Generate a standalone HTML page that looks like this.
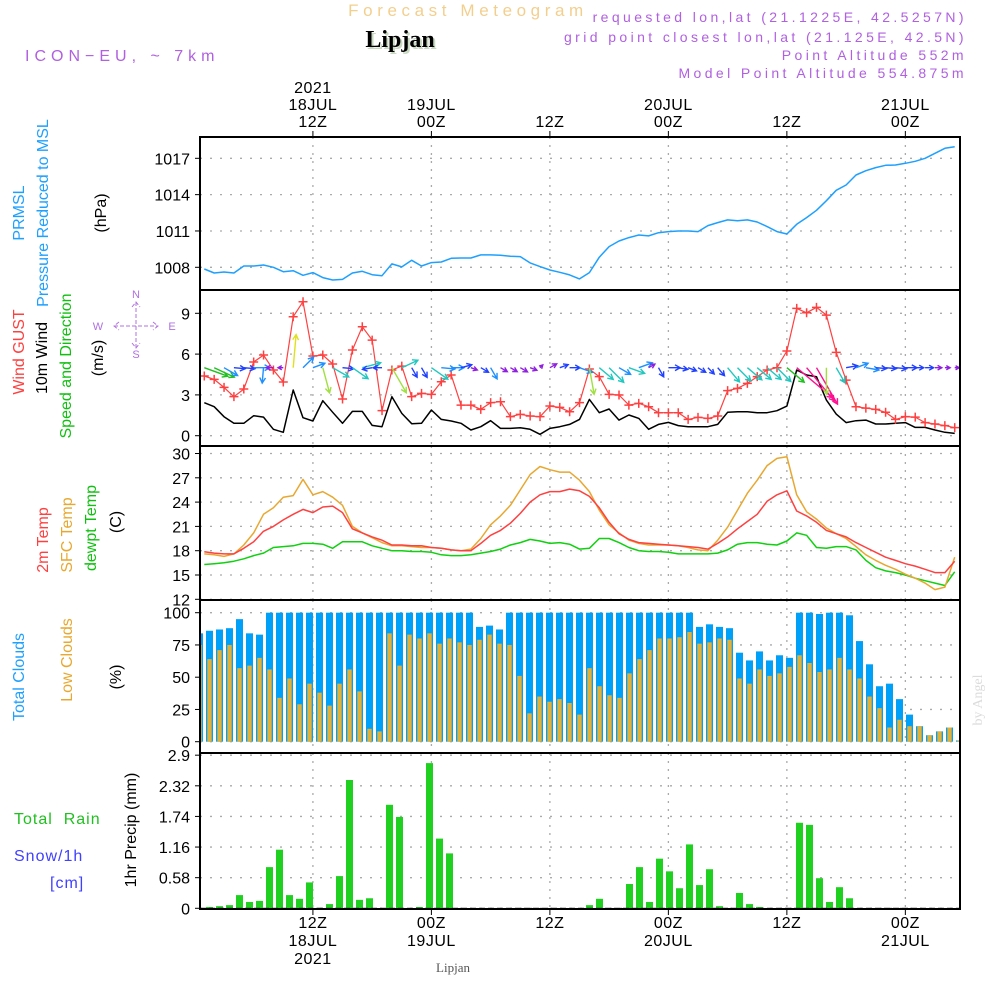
<!DOCTYPE html>
<html><head><meta charset="utf-8"><style>
html,body{margin:0;padding:0;background:#fff;}
svg{display:block;font-family:"Liberation Sans",sans-serif;}
</style></head>
<body>
<svg id="chart" width="1000" height="1000" viewBox="0 0 1000 1000" xmlns="http://www.w3.org/2000/svg">
<rect x="0" y="0" width="1000" height="1000" fill="#fff"/>
<text x="468" y="16" text-anchor="middle" font-size="17" fill="#f3cf8e" letter-spacing="4.6">Forecast Meteogram</text>
<text x="402" y="49" text-anchor="middle" font-size="24" font-weight="bold" font-family="Liberation Serif, serif" fill="#c8d8c0">Lipjan</text>
<text x="400" y="47" text-anchor="middle" font-size="24" font-weight="bold" font-family="Liberation Serif, serif" fill="#000">Lipjan</text>
<text x="25" y="61" font-size="16" fill="#b060e0" letter-spacing="5">ICON−EU, ~ 7km</text>
<g font-size="14" fill="#b060e0" text-anchor="end" letter-spacing="3.4">
<text x="967" y="22">requested lon,lat (21.1225E, 42.5257N)</text>
<text x="967" y="42">grid point closest lon,lat (21.125E, 42.5N)</text>
<text x="967" y="60">Point Altitude 552m</text>
<text x="967" y="78">Model Point Altitude 554.875m</text>
</g>
<g id="grid"></g>
<g id="marks"></g>
<g id="frames"></g>
<g id="labels"></g>
<g font-size="16">
<text transform="translate(24,213) rotate(-90)" text-anchor="middle" fill="#1ea0ff">PRMSL</text>
<text transform="translate(48,213) rotate(-90)" text-anchor="middle" fill="#1ea0ff">Pressure Reduced to MSL</text>
<text transform="translate(106,213) rotate(-90)" text-anchor="middle" fill="#000">(hPa)</text>
<text transform="translate(24,352) rotate(-90)" text-anchor="middle" fill="#ff4040">Wind GUST</text>
<text transform="translate(47,358) rotate(-90)" text-anchor="middle" fill="#000">10m Wind</text>
<text transform="translate(71,366) rotate(-90)" text-anchor="middle" fill="#10c010">Speed and Direction</text>
<text transform="translate(103,358) rotate(-90)" text-anchor="middle" fill="#000">(m/s)</text>
<text transform="translate(48,540) rotate(-90)" text-anchor="middle" fill="#ff4040">2m Temp</text>
<text transform="translate(72,535) rotate(-90)" text-anchor="middle" fill="#e8a830">SFC Temp</text>
<text transform="translate(96,528) rotate(-90)" text-anchor="middle" fill="#10c010">dewpt Temp</text>
<text transform="translate(121,522) rotate(-90)" text-anchor="middle" fill="#000">(C)</text>
<text transform="translate(24,677) rotate(-90)" text-anchor="middle" fill="#1ea0ff">Total Clouds</text>
<text transform="translate(72,660) rotate(-90)" text-anchor="middle" fill="#e8a830">Low Clouds</text>
<text transform="translate(121,677) rotate(-90)" text-anchor="middle" fill="#000">(%)</text>
<text x="14" y="824" fill="#20c020" letter-spacing="1">Total&#160;&#160;Rain</text>
<text x="14" y="861" fill="#4040ff" letter-spacing="1">Snow/1h</text>
<text x="50" y="888" fill="#4040ff" letter-spacing="1">[cm]</text>
<text transform="translate(136,830) rotate(-90)" text-anchor="middle" fill="#000">1hr Precip (mm)</text>
<text x="453" y="972" text-anchor="middle" font-size="13" font-family="Liberation Serif, serif" fill="#555">Lipjan</text>
<text transform="translate(982,700) rotate(-90)" text-anchor="middle" font-size="14" font-family="Liberation Serif, serif" fill="#dcdcdc">by Angel</text>
</g>
<g fill="#b070e0" stroke="#b070e0" font-size="11">
<text x="136" y="298" text-anchor="middle" stroke="none">N</text>
<text x="136" y="358" text-anchor="middle" stroke="none">S</text>
<text x="98" y="330" text-anchor="middle" stroke="none">W</text>
<text x="172" y="330" text-anchor="middle" stroke="none">E</text>
<path d="M136 302 V348 M114 326 H158 M132 307 L136 302 L140 307 M132 343 L136 348 L140 343 M119 322 L114 326 L119 330 M153 322 L158 326 L153 330" fill="none" stroke-width="1" stroke-dasharray="4 2"/>
</g>
</svg>
<script>
const NS = "http://www.w3.org/2000/svg";
// ---- data ----
const pressure = [1007.86,1007.53,1007.61,1007.53,1008.11,1008.11,1008.19,1008.0,1007.64,1007.72,1007.34,1007.56,1007.15,1006.95,1007.0,1007.53,1007.67,1007.39,1007.31,1008.28,1008.03,1008.58,1008.11,1008.39,1008.44,1008.74,1008.77,1008.77,1009.02,1009.02,1008.99,1008.91,1008.88,1008.36,1008.06,1007.78,1007.59,1007.37,1007.04,1007.56,1008.83,1009.71,1010.17,1010.45,1010.67,1010.59,1010.86,1010.95,1011.0,1011.0,1010.95,1011.44,1011.69,1011.91,1011.85,1011.91,1011.74,1011.36,1010.95,1010.75,1011.55,1012.1,1012.71,1013.5,1014.36,1014.8,1015.62,1015.98,1016.23,1016.42,1016.45,1016.59,1016.75,1017.0,1017.41,1017.83,1017.96];
const gust = [4.39,4.14,3.55,2.87,3.43,5.42,5.93,4.83,3.95,8.75,9.85,5.86,5.93,5.27,2.70,6.30,8.01,7.03,1.84,4.83,5.12,2.87,3.11,3.04,3.97,4.46,2.25,2.25,1.94,2.43,2.50,1.40,1.57,1.45,1.40,2.18,2.08,1.76,2.43,4.9,4.34,3.04,2.99,2.25,2.38,2.13,1.69,1.69,1.69,1.20,1.35,1.27,1.45,3.31,3.48,3.85,4.34,4.83,5.0,6.23,9.36,9.04,9.44,8.87,6.13,4.09,2.13,2.03,1.94,1.72,1.20,1.40,1.37,0.96,0.86,0.74,0.59];
const wind10 = [2.43,2.13,1.40,0.91,0.91,1.47,1.37,0.47,0.25,3.36,1.32,1.08,2.57,1.72,0.91,1.79,1.79,0.76,0.66,2.87,1.64,0.88,0.91,1.89,1.20,1.08,0.91,0.42,0.66,1.10,0.54,0.54,0.59,0.47,0.10,0.54,0.66,0.83,1.20,2.67,1.69,1.96,1.15,1.52,1.27,0.47,0.83,0.98,0.74,0.66,0.66,0.66,0.83,1.72,1.76,1.76,1.69,1.69,1.84,2.18,4.83,4.46,4.34,2.62,1.59,0.96,1.10,1.15,0.86,0.86,0.91,0.96,0.61,0.61,0.42,0.25,0.17];
const windDir = [20,25,30,5,5,0,95,180,180,-85,-45,-20,75,30,5,35,-15,170,180,60,-25,60,60,35,5,0,-15,20,30,60,30,30,30,20,-45,-30,-20,0,20,80,40,45,30,20,-20,-30,60,0,10,20,30,45,50,50,45,40,40,40,45,40,40,50,60,90,60,-10,-20,10,5,5,5,0,0,0,0,0,0];
const temp2m = [17.86,17.7,17.6,17.6,18.3,19.1,20.4,21.0,21.8,22.5,23.1,22.7,23.4,23.5,22.7,20.7,20.2,19.7,19.3,18.7,18.7,18.6,18.6,18.4,18.3,18.1,18.0,18.0,18.9,19.9,20.5,21.4,22.6,24.0,24.9,25.3,25.3,25.6,25.4,24.7,23.3,21.5,20.1,19.4,19.0,18.9,18.8,18.7,18.6,18.5,18.4,18.2,18.9,19.7,20.7,21.6,22.5,24.1,24.9,25.4,22.9,22.3,21.5,20.5,20.1,19.7,19.0,18.4,17.8,17.2,16.8,16.4,16.1,15.7,15.3,15.3,16.7];
const tempSfc = [17.6,17.5,17.3,17.6,18.7,20.2,22.5,23.3,24.6,24.8,26.8,24.9,25.3,24.6,23.6,21.0,20.2,19.6,19.0,18.6,18.6,18.5,18.4,18.4,18.3,18.1,18.0,18.2,19.5,21.2,22.3,23.6,25.5,27.4,28.4,28.0,27.7,27.7,26.7,25.3,23.0,21.2,20.2,19.3,18.9,18.7,18.7,18.7,18.6,18.4,18.1,18.0,19.3,20.9,23.0,25.1,26.7,28.5,29.4,29.6,24.9,22.8,21.9,20.8,20.1,19.5,18.5,17.5,16.8,16.2,15.7,15.1,14.6,14.0,13.2,13.5,17.2];
const dewpt = [16.3,16.4,16.5,16.7,17.0,17.4,17.7,18.4,18.5,18.6,18.9,18.9,18.8,18.3,19.1,19.1,19.1,18.6,18.3,18.0,18.0,17.9,17.9,17.8,17.5,17.4,17.4,17.5,17.7,17.9,18.2,18.7,19.0,19.4,19.2,18.9,19.0,18.8,18.2,18.3,19.5,19.5,19.0,18.4,18.0,17.9,17.9,17.8,17.6,17.6,17.6,17.6,17.7,18.1,18.8,19.0,19.0,18.8,18.7,19.2,20.2,19.9,18.4,18.3,18.5,18.5,18.1,16.8,15.9,15.5,15.3,15.0,14.6,14.3,14.0,13.7,15.4];
const totalCloud = [84,86,87,88,95,84,83,100,100,100,100,100,100,100,100,100,100,100,100,100,100,100,100,100,100,100,100,100,89,90,87,100,100,100,100,100,100,100,100,100,100,100,100,100,100,100,100,100,100,100,89,91,89,88,69,63,70,63,67,65,100,100,99,100,100,98,78,60,43,45,33,21,12,5,8,11,1];
const lowCloud = [75,64,71,75,57,59,65,56,34,49,29,45,38,28,45,56,39,10,8,84,59,83,80,84,76,80,77,75,79,83,76,75,51,22,35,31,33,30,21,57,43,36,34,53,64,71,80,80,81,85,76,77,80,79,49,45,56,51,53,58,67,61,54,56,65,56,49,35,26,11,17,12,12,5,8,11,1];
const precip = [0,0.025,0.04,0.06,0.25,0.12,0.14,0.78,1.11,0.25,0.18,0.49,0.01,0.08,0.61,2.43,0.16,0.19,0,1.96,1.73,0,0.025,2.75,1.32,1.04,0,0,0,0,0,0,0,0,0,0,0,0,0,0.06,0.18,0,0,0.46,0.78,0.12,0.94,0.70,0.38,1.21,0.44,0.74,0.04,0,0.29,0.08,0.025,0,0,0,1.62,1.58,0.57,0.12,0.40,0.19,0,0,0,0,0,0,0,0,0,0,0];
const pTicks = [1008,1011,1014,1017];
const wTicks = [0,3,6,9];
const tTicks = [12,15,18,21,24,27,30];
const cTicks = [0,25,50,75,100];
const rTicks = [0,0.58,1.16,1.74,2.32,2.9];
const timeHours = [11,23,35,47,59,71];
const topLabels = [["2021","18JUL","12Z"],["19JUL","00Z"],["12Z"],["20JUL","00Z"],["12Z"],["21JUL","00Z"]];
const botLabels = [["12Z","18JUL","2021"],["00Z","19JUL"],["12Z"],["00Z","20JUL"],["12Z"],["00Z","21JUL"]];

// ---- scales ----
const X0 = 200, X1 = 960;
const xLine = k => 204.3 + k * 9.874;
const xBar = i => 199.5 + i * 10;
const yP = v => 267.3 - (v - 1008) * 12.11;
const yW = v => 435.7 - v * 13.6;
const yT = v => 599.3 - (v - 12) * 8.1;
const yC = v => 741.7 - v * 1.29;
const yR = v => 908.3 - v * 52.8;
const panels = [[137,290],[290,446],[446,600],[600,753],[753,909]];

function el(tag, attrs, parent) {
  const e = document.createElementNS(NS, tag);
  for (const k in attrs) e.setAttribute(k, attrs[k]);
  parent.appendChild(e);
  return e;
}
const grid = document.getElementById('grid');
const marks = document.getElementById('marks');
const frames = document.getElementById('frames');
const labels = document.getElementById('labels');

timeHours.forEach(h => {
  panels.forEach(p => {
    const l = el('line', {x1: xLine(h), x2: xLine(h), y1: p[0], y2: p[1], stroke: '#aaa', 'stroke-width': 1.3, 'stroke-dasharray': '2 6'}, grid);
    
    
  });
  const t1 = el('line', {x1: xLine(h), x2: xLine(h), y1: 131, y2: 137, stroke: '#000', 'stroke-width': 1}, frames);
  
  
  const t2 = el('line', {x1: xLine(h), x2: xLine(h), y1: 909, y2: 915, stroke: '#000', 'stroke-width': 1}, frames);
  
  
});
function yAxis(ticks, scale, fmt, name) {
  ticks.forEach(v => {
    const y = scale(v);
    const g = el('line', {x1: X0, x2: X1, y1: y, y2: y, stroke: '#aaa', 'stroke-width': 1.3, 'stroke-dasharray': '2 8'}, grid);
    
    
    const tk = el('line', {x1: X0 - 5, x2: X0, y1: y, y2: y, stroke: '#000', 'stroke-width': 1}, frames);
    
    
    const t = el('text', {x: 190, y: y + 6, 'text-anchor': 'end', 'font-size': 16, fill: '#000'}, labels);
    t.textContent = fmt(v);
    
    
  });
}
yAxis(pTicks, yP, v => String(v), 'pressure-y');
yAxis(wTicks, yW, v => String(v), 'wind-y');
yAxis(tTicks, yT, v => String(v), 'temp-y');
yAxis(cTicks, yC, v => String(v), 'cloud-y');
yAxis(rTicks, yR, v => String(v), 'precip-y');

timeHours.forEach((h, j) => {
  const top = topLabels[j];
  top.forEach((s, n) => {
    const t = el('text', {x: xLine(h), y: 127 - (top.length - 1 - n) * 17, 'text-anchor': 'middle', 'font-size': 16, fill: '#000', 'letter-spacing': 0.5}, labels);
    t.textContent = s;
    
    
  });
  botLabels[j].forEach((s, n) => {
    const t = el('text', {x: xLine(h), y: 928 + n * 18, 'text-anchor': 'middle', 'font-size': 16, fill: '#000', 'letter-spacing': 0.5}, labels);
    t.textContent = s;
    
    
  });
});

const defs = el('defs', {}, marks);
const cp = el('clipPath', {id: 'plotclip'}, defs);
el('rect', {x: X0, y: 137, width: X1 - X0, height: 772}, cp);
const plot = el('g', {'clip-path': 'url(#plotclip)'}, marks);



function poly(arr, xs, ys, color, name, w) {
  const pts = arr.map((v, k) => xs(k).toFixed(1) + ',' + ys(v).toFixed(1)).join(' ');
  const p = el('polyline', {points: pts, fill: 'none', stroke: color, 'stroke-width': w || 1.5, 'stroke-linejoin': 'round'}, plot);
  
  
}
poly(pressure, xLine, yP, '#1ea0ff', 'pressure-line');
totalCloud.forEach((v, i) => {
  const r = el('rect', {x: xBar(i) - 3.5, y: yC(v), width: 7, height: yC(0) - yC(v), fill: '#00a0f8'}, plot);
  
  
});
lowCloud.forEach((v, i) => {
  const r = el('rect', {x: xBar(i) - 2.2, y: yC(v), width: 4.4, height: yC(0) - yC(v), fill: '#e8b030'}, plot);
  
  
});
precip.forEach((v, i) => {
  if (v <= 0) return;
  const r = el('rect', {x: xBar(i) - 3.5, y: yR(v), width: 7, height: yR(0) - yR(v), fill: '#20d020'}, plot);
  
  
});
const zl = el('line', {x1: X0, x2: X1, y1: yR(0), y2: yR(0), stroke: '#333', 'stroke-width': 1, 'stroke-dasharray': '6 3'}, plot);


poly(dewpt, xLine, yT, '#10d010', 'dewpoint-line');
poly(tempSfc, xLine, yT, '#e8a830', 'sfc-temp-line');
poly(temp2m, xLine, yT, '#ff4040', 't2m-line');
poly(wind10, xLine, yW, '#000', 'wind10-line');
poly(gust, xLine, yW, '#ff4040', 'gust-line', 1.2);
gust.forEach((v, k) => {
  const x = xLine(k), y = yW(v);
  const m = el('path', {d: `M${x-4.5} ${y} H${x+4.5} M${x} ${y-4.5} V${y+4.5}`, stroke: '#ff4040', 'stroke-width': 1.5}, plot);
  
  
});
function windColor(s) {
  if (s > 4) return '#ff1090';
  if (s > 3) return '#e0e020';
  if (s > 2.5) return '#a0e040';
  if (s > 2) return '#20c020';
  if (s > 1.5) return '#20c8c0';
  if (s > 1) return '#1e90ff';
  if (s > 0.6) return '#2040ff';
  return '#9020e0';
}
windDir.forEach((a, k) => {
  const s = wind10[k];
  const L = 3 + 9 * s;
  const r = a * Math.PI / 180;
  const x0 = xLine(k), y0 = yW(5);
  const x1 = x0 + L * Math.cos(r), y1 = y0 + L * Math.sin(r);
  const h = Math.min(6, 3 + L * 0.25);
  const ha = r + Math.PI;
  const hx1 = x1 + h * Math.cos(ha + 0.5), hy1 = y1 + h * Math.sin(ha + 0.5);
  const hx2 = x1 + h * Math.cos(ha - 0.5), hy2 = y1 + h * Math.sin(ha - 0.5);
  const c = windColor(s);
  const p = el('path', {d: `M${x0.toFixed(1)} ${y0.toFixed(1)} L${x1.toFixed(1)} ${y1.toFixed(1)} M${hx1.toFixed(1)} ${hy1.toFixed(1)} L${x1.toFixed(1)} ${y1.toFixed(1)} L${hx2.toFixed(1)} ${hy2.toFixed(1)}`, stroke: c, 'stroke-width': 1.4, fill: 'none'}, plot);
  
  
});
panels.forEach(p => {
  const r = el('rect', {x: X0, y: p[0], width: X1 - X0, height: p[1] - p[0], fill: 'none', stroke: '#000', 'stroke-width': 2}, frames);
  
  
});
</script>
</body></html>
